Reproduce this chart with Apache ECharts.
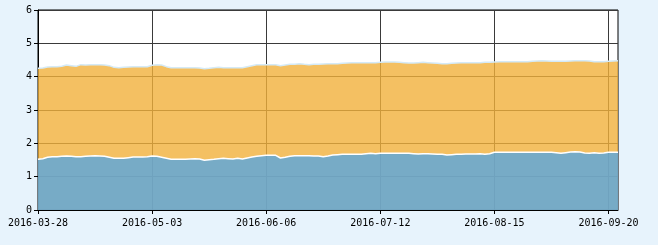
<!DOCTYPE html>
<html><head><meta charset="utf-8">
<script src="https://cdn.jsdelivr.net/npm/echarts@6/dist/echarts.min.js"></script>
<style>html,body{margin:0;padding:0;background:#E7F3FC;}#c{width:658px;height:245px;}</style>
</head><body><div id="c"></div>
<script>
var categories = [
'2016-03-28','2016-03-29','2016-03-30','2016-03-31','2016-04-01','2016-04-05','2016-04-06','2016-04-07','2016-04-08',
'2016-04-11','2016-04-12','2016-04-13','2016-04-14','2016-04-15','2016-04-18','2016-04-19','2016-04-20','2016-04-21','2016-04-22',
'2016-04-25','2016-04-26','2016-04-27','2016-04-28','2016-04-29','2016-05-03','2016-05-04','2016-05-05','2016-05-06',
'2016-05-09','2016-05-10','2016-05-11','2016-05-12','2016-05-13','2016-05-16','2016-05-17','2016-05-18','2016-05-19','2016-05-20',
'2016-05-23','2016-05-24','2016-05-25','2016-05-26','2016-05-27','2016-05-30','2016-05-31','2016-06-01','2016-06-02','2016-06-03',
'2016-06-06','2016-06-07','2016-06-08','2016-06-13','2016-06-14','2016-06-15','2016-06-16','2016-06-17',
'2016-06-20','2016-06-21','2016-06-22','2016-06-23','2016-06-24','2016-06-27','2016-06-28','2016-06-29','2016-06-30','2016-07-01',
'2016-07-04','2016-07-05','2016-07-06','2016-07-07','2016-07-08','2016-07-11','2016-07-12','2016-07-13','2016-07-14','2016-07-15',
'2016-07-18','2016-07-19','2016-07-20','2016-07-21','2016-07-22','2016-07-25','2016-07-26','2016-07-27','2016-07-28','2016-07-29',
'2016-08-01','2016-08-02','2016-08-03','2016-08-04','2016-08-05','2016-08-08','2016-08-09','2016-08-10','2016-08-11','2016-08-12',
'2016-08-15','2016-08-16','2016-08-17','2016-08-18','2016-08-19','2016-08-22','2016-08-23','2016-08-24','2016-08-25','2016-08-26',
'2016-08-29','2016-08-30','2016-08-31','2016-09-01','2016-09-02','2016-09-05','2016-09-06','2016-09-07','2016-09-08','2016-09-09',
'2016-09-12','2016-09-13','2016-09-14','2016-09-19','2016-09-20','2016-09-21','2016-09-22'];

var lowerValues = [
1.52,1.54,1.58,1.60,1.60,1.61,1.62,1.61,1.60,1.60,
1.61,1.62,1.63,1.62,1.61,1.58,1.55,1.55,1.55,1.57,
1.59,1.59,1.59,1.60,1.62,1.61,1.58,1.55,1.52,1.52,
1.52,1.52,1.53,1.54,1.53,1.49,1.51,1.52,1.54,1.55,
1.54,1.53,1.55,1.53,1.56,1.59,1.61,1.63,1.64,1.64,
1.64,1.56,1.58,1.61,1.63,1.63,1.63,1.63,1.62,1.62,
1.60,1.62,1.65,1.66,1.67,1.67,1.67,1.67,1.67,1.69,
1.70,1.69,1.70,1.70,1.70,1.70,1.70,1.70,1.70,1.69,
1.68,1.69,1.69,1.68,1.67,1.67,1.65,1.66,1.67,1.67,
1.68,1.68,1.68,1.69,1.67,1.69,1.73,1.73,1.73,1.73,
1.73,1.73,1.73,1.73,1.73,1.73,1.73,1.73,1.73,1.72,
1.70,1.72,1.74,1.75,1.74,1.71,1.70,1.72,1.70,1.71,
1.73,1.73,1.73];

var totalValues = [
4.25,4.26,4.29,4.30,4.30,4.31,4.35,4.33,4.31,4.36,
4.35,4.36,4.36,4.36,4.35,4.33,4.28,4.27,4.28,4.29,
4.30,4.30,4.30,4.30,4.34,4.36,4.35,4.30,4.27,4.27,
4.27,4.27,4.27,4.27,4.26,4.24,4.25,4.27,4.28,4.27,
4.27,4.27,4.27,4.27,4.30,4.33,4.36,4.36,4.36,4.36,
4.36,4.33,4.35,4.37,4.37,4.39,4.37,4.36,4.37,4.37,
4.38,4.39,4.39,4.39,4.40,4.41,4.42,4.42,4.42,4.42,
4.42,4.42,4.43,4.44,4.44,4.44,4.43,4.42,4.41,4.41,
4.42,4.43,4.42,4.41,4.40,4.39,4.39,4.40,4.41,4.42,
4.42,4.42,4.42,4.42,4.43,4.43,4.44,4.45,4.45,4.45,
4.45,4.45,4.45,4.45,4.46,4.47,4.48,4.47,4.46,4.46,
4.46,4.46,4.47,4.48,4.48,4.48,4.47,4.45,4.45,4.45,
4.46,4.47,4.48];

var yTicks = [0,1,2,3,4,5,6];

var chart = echarts.init(document.getElementById('c'), null, {renderer:'canvas'});
var fontFam = 'DejaVu Sans Mono';
chart.setOption({
  backgroundColor: '#E7F3FC',
  animation: false,
  grid: {left:38, right:40, top:10, bottom:35, show:true, backgroundColor:'#fff', borderColor:'#000', borderWidth:1},
  xAxis: {
    type:'category', data:categories, boundaryGap:false,
    axisLine:{lineStyle:{color:'#000', width:1}},
    axisTick:{interval:23, length:4, lineStyle:{color:'#000'}},
    axisLabel:{interval:23, color:'#000', fontFamily:fontFam, fontSize:10, margin:8},
    splitLine:{show:true, interval:23, lineStyle:{color:'#3a3a3a', width:1}}
  },
  yAxis: {
    type:'value', min:yTicks[0], max:yTicks[yTicks.length-1], interval:1,
    axisLine:{show:true, lineStyle:{color:'#000', width:1}},
    axisTick:{show:true, length:4, lineStyle:{color:'#000'}},
    axisLabel:{color:'#000', fontFamily:fontFam, fontSize:10, margin:6},
    splitLine:{show:true, lineStyle:{color:'#3a3a3a', width:1}}
  },
  series: [
    {name:'total', type:'line', data:totalValues, symbol:'none', silent:true,
     lineStyle:{color:'#d4eaf7', width:1.5},
     areaStyle:{color:'#F1B03B', opacity:0.8}},
    {name:'lower', type:'line', data:lowerValues, symbol:'none', silent:true,
     lineStyle:{color:'#ffffff', width:1.5},
     areaStyle:{color:'#58A5E0', opacity:0.8}}
  ]
});
</script></body></html>
